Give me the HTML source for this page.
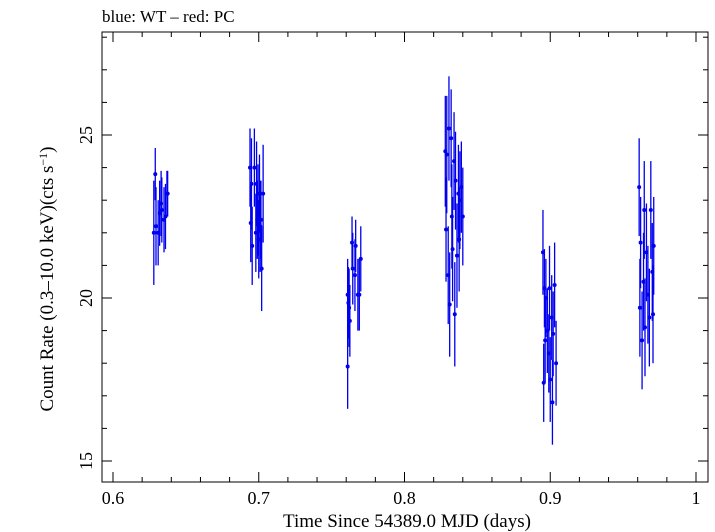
<!DOCTYPE html>
<html><head><meta charset="utf-8"><style>
body{margin:0;background:#fff}
svg{display:block;font-family:"Liberation Serif",serif}
</style></head><body>
<svg id="chart" width="715" height="532">
<text x="102" y="22" font-size="17">blue: WT – red: PC</text>
<rect x="102" y="32" width="606" height="450" fill="none" stroke="#000" stroke-width="1"/>
<g id="ticks"></g>
<g id="marks"></g>
<text x="407" y="527" font-size="19" text-anchor="middle">Time Since 54389.0 MJD (days)</text>
<text transform="translate(53,279) rotate(-90)" font-size="19" text-anchor="middle">Count Rate (0.3–10.0 keV)(cts s<tspan dy="-6" font-size="12">−1</tspan><tspan dy="6">)</tspan></text>
</svg>
<script>
const times=[0.628,0.629,0.6295,0.631,0.632,0.633,0.6335,0.635,0.636,0.637,0.6375,
0.694,0.6945,0.695,0.6955,0.697,0.698,0.6985,0.699,0.6995,0.700,0.7005,0.701,0.7015,0.702,0.703,
0.761,0.761,0.7615,0.762,0.7625,0.764,0.7645,0.766,0.7665,0.768,0.769,0.770,
0.828,0.8285,0.829,0.830,0.8305,0.831,0.832,0.8325,0.833,0.834,0.8345,0.835,0.836,0.837,0.8375,0.838,0.839,0.840,
0.895,0.8955,0.896,0.8965,0.897,0.898,0.899,0.8995,0.900,0.901,0.9015,0.902,0.903,0.904,
0.961,0.9615,0.962,0.963,0.964,0.9645,0.965,0.966,0.967,0.968,0.969,0.970,0.9705,0.971];
const rates=[22.0,23.8,22.2,22.0,22.6,22.9,22.7,22.4,22.5,23.2,23.2,
24.0,22.3,23.5,21.6,24.0,22.0,23.5,22.4,22.7,21.8,23.2,22.2,22.4,20.9,23.2,
17.9,20.1,19.85,19.7,19.3,21.7,20.9,20.7,21.6,20.1,20.1,21.2,
24.5,22.1,24.4,20.7,25.2,19.8,24.9,22.5,21.5,24.2,19.5,23.6,21.3,23.2,21.8,23.0,23.4,22.5,
21.4,17.4,20.3,18.7,20.0,19.0,18.3,20.3,17.5,19.4,16.8,18.9,20.4,18.0,
23.4,19.7,21.7,18.7,20.5,22.7,19.1,21.4,20.1,19.4,22.7,20.8,19.5,21.6];
const errors=[1.6,0.8,1.2,1.0,1.0,1.0,1.0,1.0,1.0,0.7,0.7,
1.2,1.2,1.4,1.2,1.2,1.2,1.3,1.2,1.4,1.2,1.2,1.4,1.2,1.3,1.5,
1.3,1.1,1.1,1.2,1.1,0.8,1.1,1.1,0.8,1.1,1.1,1.0,
1.7,1.6,1.8,1.5,1.6,1.6,1.5,1.6,1.6,1.5,1.6,1.5,1.6,1.5,1.6,1.5,1.4,1.5,
1.3,1.2,1.2,1.3,1.2,1.3,1.2,1.3,1.3,1.3,1.3,1.3,1.3,1.3,
1.5,1.5,1.4,1.5,1.5,1.5,1.5,1.5,1.5,1.5,1.5,1.5,1.5,1.5];
const xTicks=[0.6,0.7,0.8,0.9,1.0];
const xTickLabels=["0.6","0.7","0.8","0.9","1"];
const yTicks=[15,20,25];
const yTickLabels=["15","20","25"];
const X=v=>113+(v-0.6)*1457.5;
const Y=v=>298-(v-20)*32.6;
const NS="http://www.w3.org/2000/svg";
const tg=document.getElementById('ticks'),mg=document.getElementById('marks');
function ln(g,x1,y1,x2,y2,c,w){const l=document.createElementNS(NS,'line');l.setAttribute('x1',x1);l.setAttribute('y1',y1);l.setAttribute('x2',x2);l.setAttribute('y2',y2);l.setAttribute('stroke',c);l.setAttribute('stroke-width',w);g.appendChild(l);return l;}
for(let v=0.58;v<=1.0051;v+=0.02){const x=X(v);if(x<102||x>708)continue;const maj=Math.abs(Math.round(v*10)-v*10)<1e-6;const L=maj?10:5;ln(tg,x,482,x,482-L,'#000',1);ln(tg,x,32,x,32+L,'#000',1);}
for(let v=14;v<=28;v++){const y=Y(v);if(y<32||y>482)continue;const L=v%5==0?10:5;ln(tg,102,y,102+L,y,'#000',1);ln(tg,708,y,708-L,y,'#000',1);}
xTicks.forEach((v,i)=>{const t=document.createElementNS(NS,'text');t.setAttribute('x',X(v));t.setAttribute('y',504);t.setAttribute('font-size','18');t.setAttribute('text-anchor','middle');t.textContent=xTickLabels[i];


tg.appendChild(t);});
yTicks.forEach((v,i)=>{const t=document.createElementNS(NS,'text');t.setAttribute('transform',`translate(92,${Y(v)}) rotate(-90)`);t.setAttribute('font-size','18');t.setAttribute('text-anchor','middle');t.textContent=yTickLabels[i];


tg.appendChild(t);});
times.forEach((t,i)=>{const x=X(t),y=Y(rates[i]);
const l=ln(mg,x,Y(rates[i]+errors[i]),x,Y(rates[i]-errors[i]),'#0000ee',1.3);


const c=document.createElementNS(NS,'circle');c.setAttribute('cx',x);c.setAttribute('cy',y);c.setAttribute('r',2);c.setAttribute('fill','#0000ee');


mg.appendChild(c);});
</script>
</body></html>
